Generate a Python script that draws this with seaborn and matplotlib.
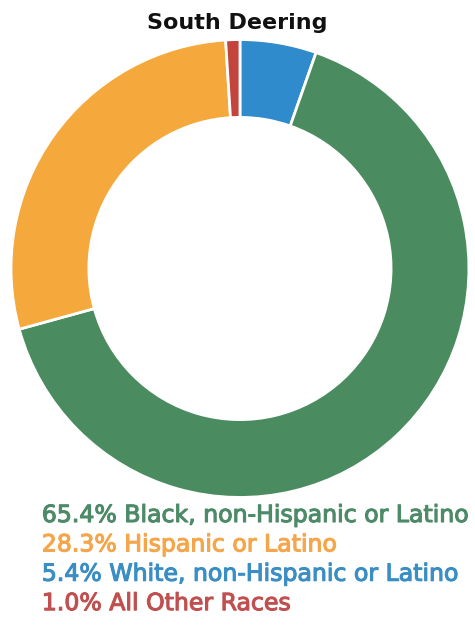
import matplotlib
matplotlib.use("Agg")
import matplotlib.pyplot as plt
import matplotlib.patheffects as pe
import seaborn as sns

# data
title = "South Deering"
groups = ["White, non-Hispanic or Latino", "Black, non-Hispanic or Latino",
          "Hispanic or Latino", "All Other Races"]
shares = [5.4, 65.4, 28.3, 1.0]
colors = ["#2f8bcc", "#4a8c60", "#f5a83b", "#c2443d"]
text_colors = ["#3a8ec4", "#4d8a68", "#f5a64a", "#c05050"]
legend_order = [1, 2, 0, 3]

sns.set_theme(style="white")
plt.rcParams["font.family"] = ["DejaVu Sans"]

fig = plt.figure(figsize=(4.75, 6.25), dpi=100)
ax = fig.add_axes([0.0232, 0.204, 0.964, 0.7328])
ax.pie(shares, colors=colors, startangle=90, counterclock=False, radius=1,
       wedgeprops=dict(width=0.34, edgecolor="white", linewidth=2))
ax.set_xlim(-1, 1)
ax.set_ylim(-1, 1)
ax.set_aspect("equal")
ax.axis("off")

fig.text(0.5, 0.963, title, ha="center", va="center",
         fontsize=16, fontweight="bold", color="#111111")

# legend lines, drawn a bit heavier than regular weight
ys = [0.176, 0.129, 0.082, 0.035]
for y, i in zip(ys, legend_order):
    t = fig.text(0.088, y, f"{shares[i]:.1f}% {groups[i]}", ha="left", va="center",
                 fontsize=17, color=text_colors[i])
    t.set_path_effects([pe.withStroke(linewidth=0.8, foreground=text_colors[i])])

fig.savefig("out.png", dpi=100)
